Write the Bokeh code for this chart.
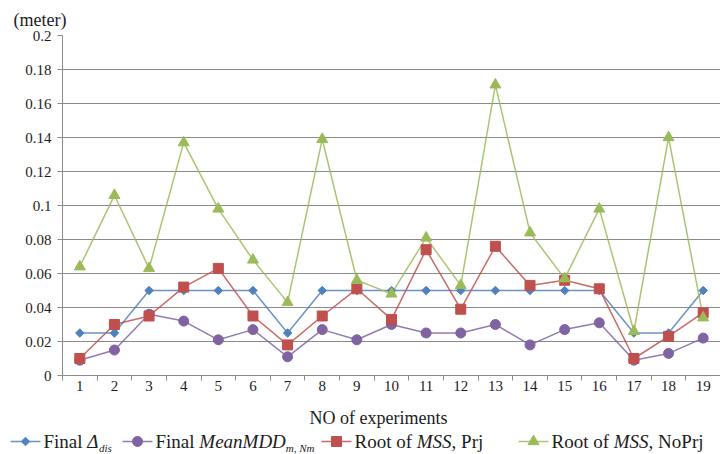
import numpy as np
from bokeh.plotting import figure
from bokeh.layouts import column
from bokeh.models import Range1d, FixedTicker, Label
from bokeh.embed import file_html
from bokeh.resources import INLINE

# ---------------- data ----------------
experiments = list(range(1, 20))
final_delta = [0.025, 0.025, 0.05, 0.05, 0.05, 0.05, 0.025, 0.05, 0.05, 0.05,
               0.05, 0.05, 0.05, 0.05, 0.05, 0.05, 0.025, 0.025, 0.05]
final_mean_mdd = [0.009, 0.015, 0.036, 0.032, 0.021, 0.027, 0.011, 0.027, 0.021, 0.030,
                  0.025, 0.025, 0.030, 0.018, 0.027, 0.031, 0.009, 0.013, 0.022]
root_mss_prj = [0.010, 0.030, 0.035, 0.052, 0.063, 0.035, 0.018, 0.035, 0.051, 0.033,
                0.074, 0.039, 0.076, 0.053, 0.056, 0.051, 0.010, 0.023, 0.037]
root_mss_noprj = [0.064, 0.106, 0.063, 0.137, 0.098, 0.068, 0.043, 0.139, 0.056, 0.048,
                  0.081, 0.053, 0.171, 0.084, 0.057, 0.098, 0.026, 0.140, 0.034]
y_ticks = [0.0, 0.02, 0.04, 0.06, 0.08, 0.10, 0.12, 0.14, 0.16, 0.18, 0.20]
y_tick_labels = ["0", "0.02", "0.04", "0.06", "0.08", "0.1", "0.12", "0.14", "0.16", "0.18", "0.2"]
x_title = "NO of experiments"
unit_label = "(meter)"

FONT = "Liberation Serif"
BLUE, PURPLE, RED, GREEN = "#4F81BD", "#8064A2", "#C0504D", "#9BBB59"
GRID = "#8a8a8a"
TXT = "#1c1c1c"

# ---------------- main chart ----------------
p = figure(width=720, height=400, x_range=Range1d(0.5, 19.5), y_range=Range1d(0, 0.2),
           output_backend="svg", toolbar_location=None, frame_align=False,
           min_border_top=35, min_border_left=62, min_border_right=0, min_border_bottom=25)
p.outline_line_color = None
p.title.text = unit_label
p.title.align = "left"
p.title.offset = -49
p.title.standoff = 12
p.title.text_font = FONT
p.title.text_font_size = "18px"
p.title.text_font_style = "normal"
p.title.text_color = TXT

p.xgrid.visible = False
p.ygrid.ticker = FixedTicker(ticks=y_ticks)
p.ygrid.grid_line_color = GRID
p.ygrid.grid_line_width = 1

ya = p.yaxis[0]
ya.ticker = FixedTicker(ticks=y_ticks)
ya.major_label_overrides = {t: l for t, l in zip(y_ticks, y_tick_labels)}
ya.major_tick_out = 5
ya.major_tick_in = 0
ya.minor_tick_out = 0
ya.minor_tick_in = 0
ya.major_label_standoff = 6
ya.axis_line_color = GRID
ya.major_tick_line_color = GRID
ya.major_label_text_font = FONT
ya.major_label_text_font_size = "15px"
ya.major_label_text_color = TXT

xa = p.xaxis[0]
xa.ticker = FixedTicker(ticks=experiments, minor_ticks=[i + 0.5 for i in range(0, 20)])
xa.major_tick_out = 0
xa.major_tick_in = 0
xa.minor_tick_out = 5
xa.minor_tick_in = 0
xa.minor_tick_line_color = GRID
xa.axis_line_color = GRID
xa.major_label_standoff = 0
xa.major_label_text_font = FONT
xa.major_label_text_font_size = "15px"
xa.major_label_text_color = TXT

series = [
    (final_delta, BLUE, "square", 6, np.pi / 4),
    (final_mean_mdd, PURPLE, "circle", 10, 0.0),
    (root_mss_prj, RED, "square", 10, 0.0),
    (root_mss_noprj, GREEN, "triangle", 11, 0.0),
]
for vals, col, mk, sz, ang in series:
    p.line(experiments, vals, line_color=col, line_width=1.5, line_alpha=0.85)
for vals, col, mk, sz, ang in series:
    p.scatter(experiments, vals, marker=mk, size=sz, angle=ang,
              fill_color=col, line_color=col)

# ---------------- bottom strip: x title + legend ----------------
leg = figure(width=720, height=54, x_range=(0, 720), y_range=(0, 54),
             output_backend="svg", toolbar_location=None,
             x_axis_type=None, y_axis_type=None, min_border=0, frame_align=False)
leg.outline_line_color = None
leg.grid.visible = False

leg.add_layout(Label(x=378, y=37, text=x_title, text_font=FONT, text_font_size="18px",
                     text_color=TXT, text_align="center", text_baseline="middle"))

REG = {" ": 250, "F": 556, "i": 278, "n": 500, "a": 444, "l": 278, "R": 667, "o": 500,
       "t": 278, "f": 333, ",": 250, "P": 556, "r": 333, "j": 278, "N": 722}
ITA = {"Δ": 612, "M": 833, "e": 444, "a": 500, "n": 500, "D": 722, "S": 500, "m": 722,
       ",": 250, " ": 250, "N": 667, "d": 500, "i": 278, "s": 389}


def width(txt, style, size):
    table = ITA if style == "italic" else REG
    return sum(table.get(c, 500) for c in txt) / 1000.0 * size


LEG_SIZE = 19
SUB_SIZE = 11
legend_items = [
    (BLUE, "square", 6, np.pi / 4, 10,
     [("Final ", "normal", False), ("Δ", "italic", False), ("dis", "italic", True)]),
    (PURPLE, "circle", 10, 0.0, 122,
     [("Final ", "normal", False), ("MeanMDD", "italic", False), ("m, Nm", "italic", True)]),
    (RED, "square", 10, 0.0, 321,
     [("Root of ", "normal", False), ("MSS", "italic", False), (", Prj", "normal", False)]),
    (GREEN, "triangle", 11, 0.0, 518,
     [("Root of ", "normal", False), ("MSS", "italic", False), (", NoPrj", "normal", False)]),
]
for col, mk, sz, ang, x0, segs in legend_items:
    leg.line([x0, x0 + 30], [13, 13], line_color=col, line_width=1.5, line_alpha=0.85)
    leg.scatter([x0 + 15], [13], marker=mk, size=sz, angle=ang, fill_color=col, line_color=col)
    cx = x0 + 33
    for txt, style, sub in segs:
        fs = SUB_SIZE if sub else LEG_SIZE
        leg.add_layout(Label(x=cx, y=7 if sub else 13.5, text=txt.strip(), text_font=FONT,
                             text_font_size=f"{fs}px", text_font_style=style,
                             text_color=TXT, text_baseline="middle"))
        cx += width(txt, style, fs)

layout = column(p, leg, spacing=0)
open("out.html", "w").write(file_html(layout, INLINE))
